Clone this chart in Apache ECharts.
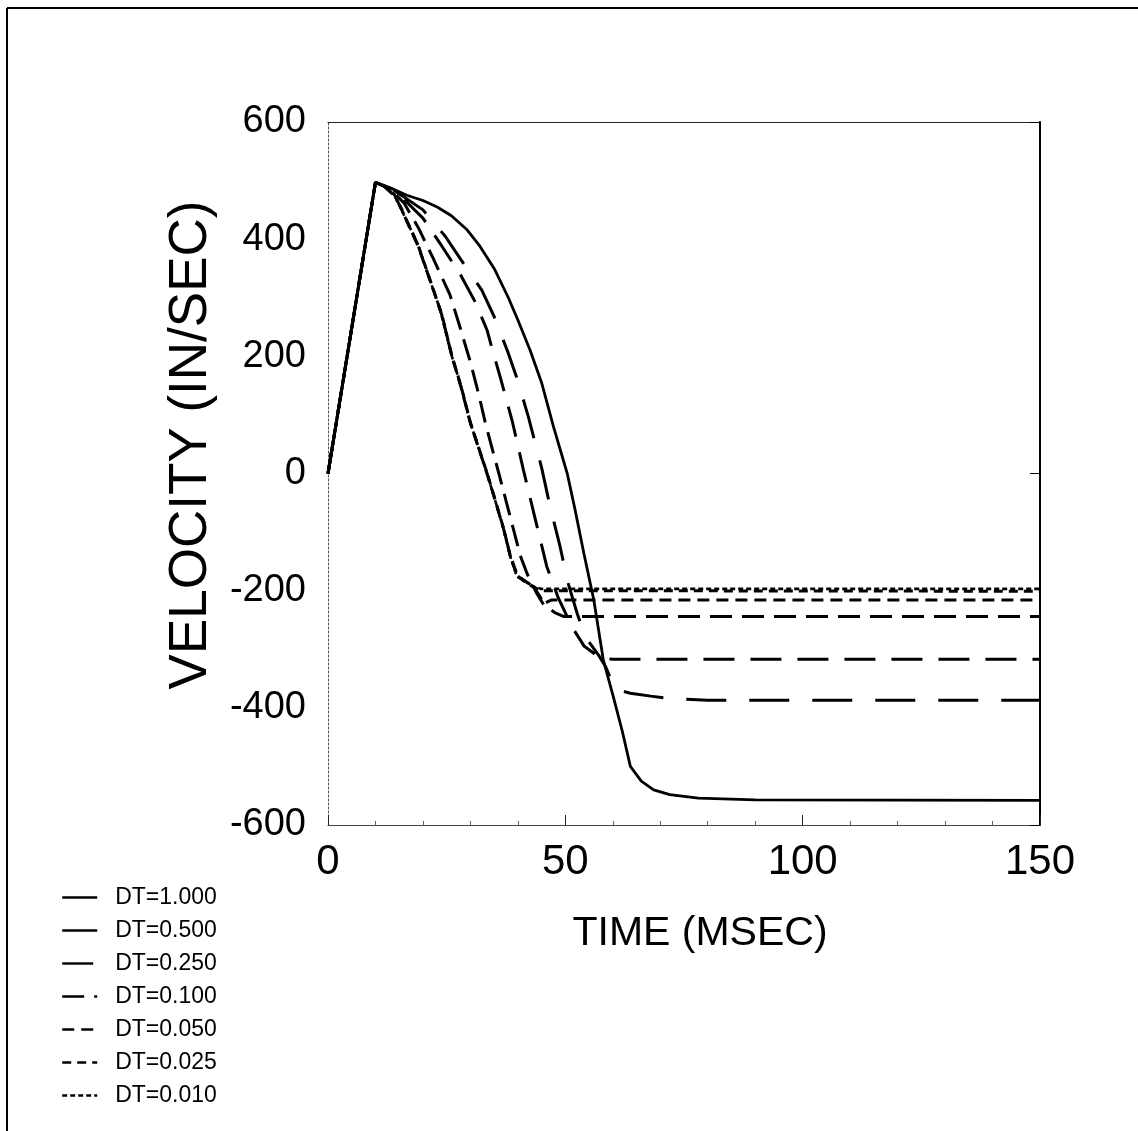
<!DOCTYPE html>
<html>
<head>
<meta charset="utf-8">
<script src="https://cdn.jsdelivr.net/npm/echarts@6/dist/echarts.min.js"></script>
<style>
html,body{margin:0;padding:0;background:#fff;}
#chart{width:1138px;height:1131px;}
</style>
</head>
<body>
<div id="chart"></div>
<script>
// ---- data (time in msec, velocity in in/sec) ----
var seriesNames = ['DT=1.000','DT=0.500','DT=0.250','DT=0.100','DT=0.050','DT=0.025','DT=0.010'];
var xTicks = [0, 50, 100, 150];
var yTicks = [-600, -400, -200, 0, 200, 400, 600];
var xTitle = 'TIME (MSEC)';
var yTitle = 'VELOCITY (IN/SEC)';

var dt1000 = [[0,0],[10,497],[13,488],[16.6,475],[20,466],[23,455],[26,440],[29.3,416],[32,388],[35,350],[38,300],[40,262],[42.6,210],[45,155],[47.5,80],[50.4,0],[52,-60],[53.9,-136],[56,-216],[58,-318],[60.1,-381],[62,-440],[63.7,-500],[66,-525],[68.6,-540],[72,-548],[78,-554],[90,-557],[150,-558]];
var dt0500 = [[0,0],[10,497],[13,488],[16,472],[20,450],[24.7,405],[28,365],[32.4,313],[35,268],[38,205],[40,158],[42.3,94],[45,10],[46.8,-57],[48.9,-125],[50.5,-185],[52.5,-239],[54.2,-279],[57,-310],[58.5,-330],[60.5,-368],[63.7,-375],[68,-380],[72,-384],[80,-387],[150,-387]];
var dt0250 = [[0,0],[10,497],[13,487],[16,468],[20,436],[24,388],[28,338],[31,293],[33.5,245],[34.5,215],[36.3,164],[38.8,90],[41.2,5],[43.7,-79],[46.1,-159],[48.5,-212],[51.4,-262],[54,-295],[57.4,-315],[60,-317],[150,-317]];
var dt0100 = [[0,0],[10,497],[13,486],[16,462],[19,420],[22,370],[25.7,305],[27.8,250],[30,190],[31.7,137],[33.1,88],[34.5,45],[36,0],[38,-62],[40.5,-140],[42,-172],[44,-205],[45.5,-225],[47.9,-238],[49.6,-244],[150,-244]];
var dt0050 = [[0,0],[10,497],[12,489],[14,474],[15.5,452],[17,423],[19,388],[22.2,313],[24,270],[26.1,200],[28,148],[30,86],[33.5,0],[35,-40],[37,-95],[38.4,-140],[39.8,-172],[41.2,-182],[43.3,-193],[44.5,-208],[45.5,-222],[47,-216],[150,-216]];
var dt0025 = [[0,0],[10,497],[12,490],[14,476],[15.3,454],[17,425],[19,389],[22.2,314],[24,271],[26.1,201],[28,150],[30,87],[33.5,1],[35,-39],[37,-94],[38.4,-141],[39.8,-174],[41.2,-183],[43.3,-194],[45,-200],[150,-201]];
var dt0010 = [[0,0],[10,497],[12,490],[14,475],[15.2,455],[17,424],[19,390],[22.2,313],[23.6,280],[26.1,200],[28,150],[30,86],[33.5,0],[35,-40],[37,-95],[38.4,-142],[39.8,-176],[41.2,-182],[43.3,-193],[45,-197],[150,-197]];

var allData = [dt1000, dt0500, dt0250, dt0100, dt0050, dt0025, dt0010];
var dashTypes = ['solid', [40,23], [31,16], [22,10], [12,7], [9,6], [5,3]];
var widths = [2.8, 3, 3, 3, 3, 3, 2.6];

var chart = echarts.init(document.getElementById('chart'), null, {renderer:'canvas'});
var FONT = 'Liberation Sans';

var series = seriesNames.map(function(n, i){
  return {
    name: n, type: 'line', data: allData[i], symbol: 'none', smooth: false,
    xAxisIndex: 0, yAxisIndex: 0,
    lineStyle: {color: '#000', width: widths[i], type: dashTypes[i]},
    itemStyle: {color: '#000'},
    animation: false
  };
});

var option = {
  backgroundColor: '#fff',
  animation: false,
  grid: {left: 328, right: 98, top: 122, bottom: 306, containLabel: false},
  legend: {
    orient: 'vertical', left: 56, top: 881,
    itemWidth: 35, itemHeight: 12, itemGap: 10,
    data: seriesNames,
    itemStyle: {color: 'rgba(0,0,0,0)', borderWidth: 0, opacity: 0},
    lineStyle: {width: 2.4},
    textStyle: {fontFamily: FONT, fontSize: 23, color: '#000', padding: [0,0,0,13]},
    selectedMode: false
  },
  xAxis: [{
    type: 'value', min: xTicks[0], max: xTicks[xTicks.length-1], interval: 50,
    position: 'bottom',
    axisLine: {show: true, onZero: false, lineStyle: {color: '#444', width: 1}},
    axisTick: {show: true, inside: true, length: 10, lineStyle: {color: '#222'}},
    minorTick: {show: true, splitNumber: 5, length: 4, lineStyle: {color: '#666'}},
    axisLabel: {fontFamily: FONT, fontSize: 42, color: '#000', margin: 16},
    splitLine: {show: false}
  },{
    type: 'value', min: 0, max: 150, position: 'top',
    axisLine: {show: true, onZero: false, lineStyle: {color: '#222', width: 1.2}},
    axisTick: {show: false}, axisLabel: {show: false}, splitLine: {show: false}
  }],
  yAxis: [{
    type: 'value', min: yTicks[0], max: yTicks[yTicks.length-1], interval: 200,
    position: 'left',
    axisLine: {show: true, onZero: false, lineStyle: {color: '#555', width: 1, type: [2,2]}},
    axisTick: {show: false},
    axisLabel: {fontFamily: FONT, fontSize: 38, color: '#000', margin: 22},
    splitLine: {show: false}
  },{
    type: 'value', min: -600, max: 600, interval: 600, position: 'right',
    axisLine: {show: true, onZero: false, lineStyle: {color: '#000', width: 2}},
    axisTick: {show: true, inside: true, length: 10, lineStyle: {color: '#000', width: 1}},
    axisLabel: {show: false}, splitLine: {show: false}
  }],
  graphic: [
    {type: 'line', shape: {x1: 7, y1: 8, x2: 7, y2: 1131}, style: {stroke: '#000', lineWidth: 2}},
    {type: 'line', shape: {x1: 7, y1: 8, x2: 1138, y2: 8}, style: {stroke: '#000', lineWidth: 2}},
    {type: 'text', x: 700, y: 934, style: {text: xTitle, font: '41px "Liberation Sans"', fill: '#000', align: 'center', verticalAlign: 'middle'}},
    {type: 'text', x: 191, y: 445, rotation: Math.PI/2, style: {text: yTitle, font: '53px "Liberation Sans"', fill: '#000', align: 'center', verticalAlign: 'middle'}}
  ],
  series: series
};
chart.setOption(option);
</script>
</body>
</html>
